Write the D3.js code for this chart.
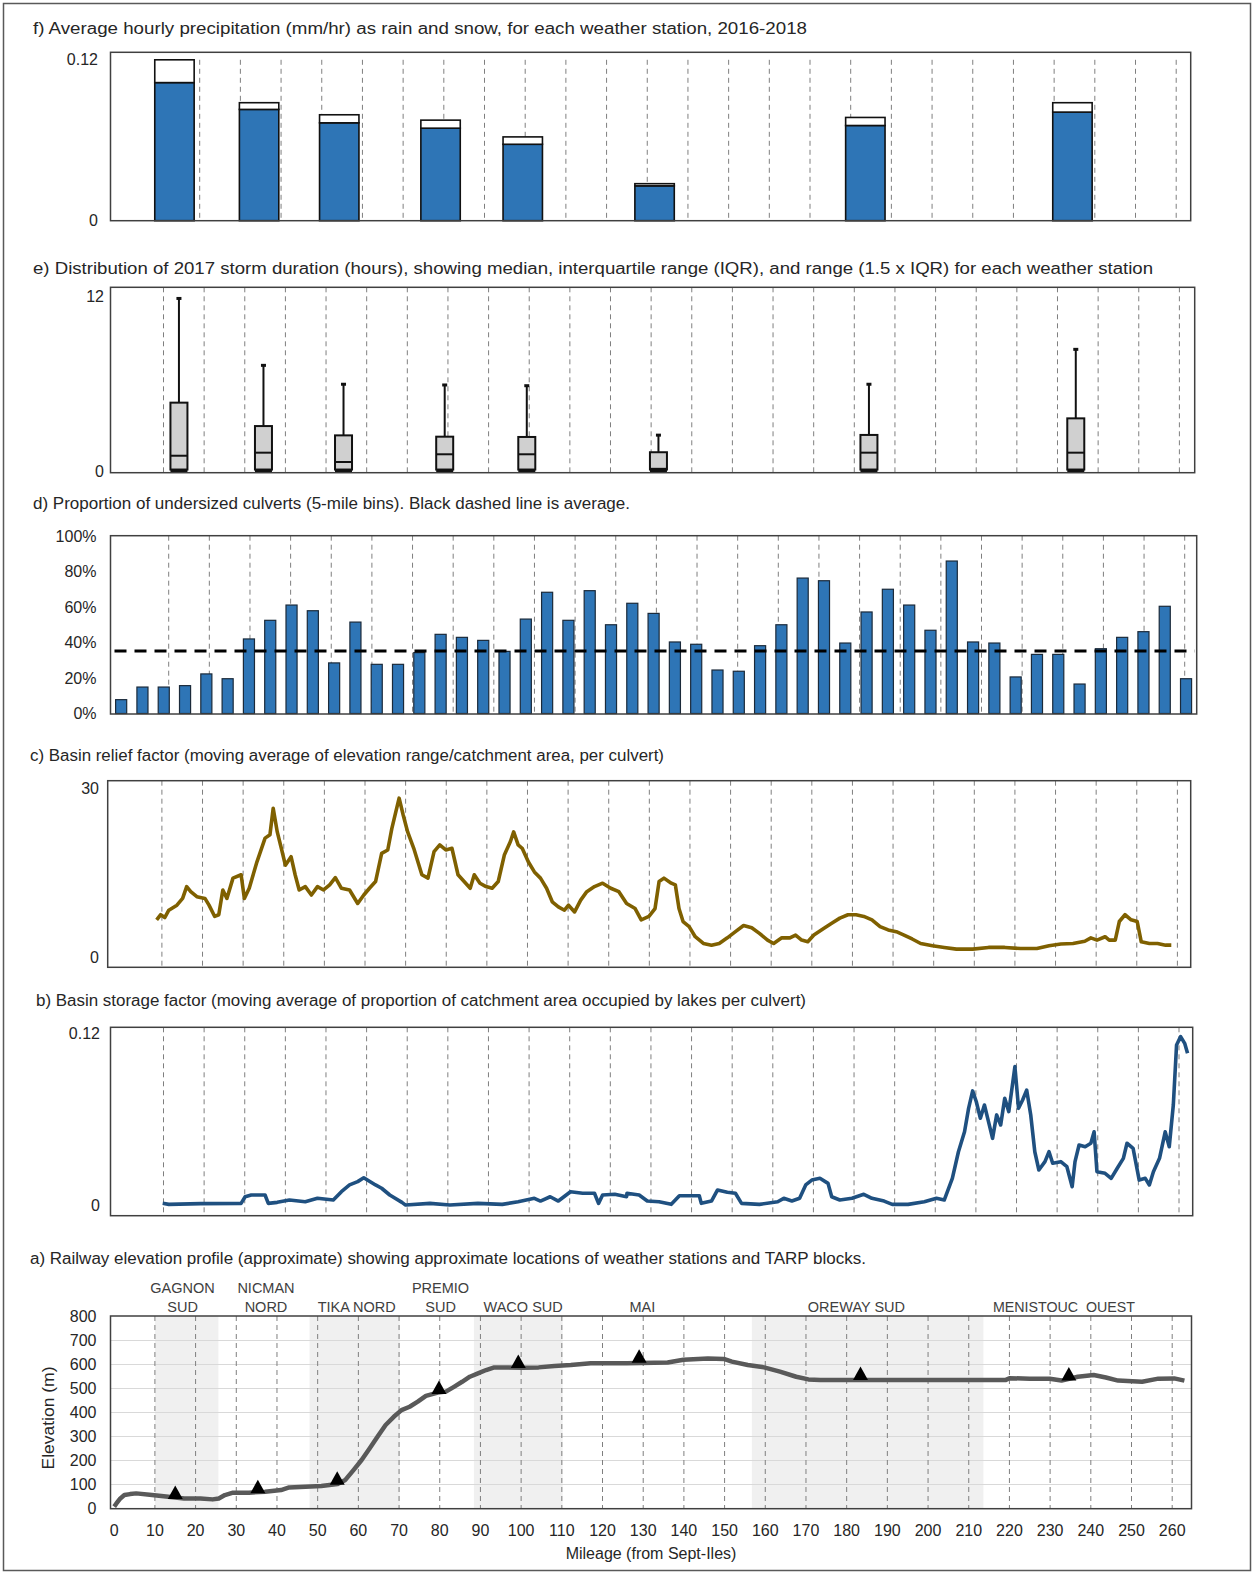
<!DOCTYPE html>
<html>
<head>
<meta charset="utf-8">
<script src="https://cdn.jsdelivr.net/npm/d3@7"></script>
<style>
  body { margin: 0; background: #fff; }
  svg { display: block; }
  text { font-family: "Liberation Sans", Arial, sans-serif; fill: #262626; }
</style>
</head>
<body>
<svg id="chart" width="1257" height="1575"></svg>
<script>
// ---------------- Data ----------------
// Weather stations (mileage from Sept-Iles)
const stationNames = ["GAGNON SUD", "NICMAN NORD", "TIKA NORD", "PREMIO SUD", "WACO SUD", "MAI", "OREWAY SUD", "MENISTOUC OUEST"];
const stationMile = [13.8, 34.6, 54.3, 79.2, 99.4, 131.8, 183.6, 234.5];

// f) average hourly precipitation (mm/hr), 2016-2018
const rainRate = [0.103, 0.083, 0.073, 0.069, 0.057, 0.026, 0.071, 0.081];
const snowRate = [0.017, 0.005, 0.006, 0.006, 0.0055, 0.0016, 0.006, 0.007];

// e) 2017 storm duration (hours)
const stormMin    = [0, 0, 0, 0, 0, 0, 0, 0];
const stormQ1     = [0.1, 0.1, 0.1, 0.1, 0.1, 0.1, 0.1, 0.1];
const stormMedian = [1.05, 1.26, 0.62, 1.15, 1.15, 0.15, 1.26, 1.26];
const stormQ3     = [4.7, 3.09, 2.45, 2.36, 2.34, 1.29, 2.48, 3.62];
const stormMax    = [11.9, 7.3, 6.0, 5.95, 5.9, 2.5, 6.0, 8.4];

// d) proportion of undersized culverts per 5-mile bin (%)
const binStart = d3.range(0, 255, 5);
const undersizedPct = [7.8, 14.9, 14.9, 15.7, 22.3, 19.6, 42, 52.5, 61.1, 57.9,
  28.5, 51.5, 27.7, 27.7, 34.3, 44.6, 42.9, 41.2, 35, 53.2,
  68.3, 52.5, 69.2, 50, 62.1, 56.4, 40.3, 39, 24.5, 23.8,
  38.2, 50, 76.3, 74.8, 39.7, 57.2, 70, 61.1, 46.9, 85.9,
  40.3, 39.7, 20.6, 33.3, 33.3, 16.6, 36.5, 42.9, 46.1, 60.4, 19.6];
const undersizedAvg = 35.2;

// c) basin relief factor, moving average [mile, value]
const reliefFactor = [[8.7,6.6],[9.7,7.5],[10.7,7.0],[11.7,8.3],[13.7,9.2],[15.1,10.4],[16.1,12.5],[17.1,11.6],[18.6,10.7],[20.6,10.4],
  [21.6,9.2],[23,7.2],[24,7.5],[25,11.9],[26,10.4],[27.5,14.0],[29.5,14.6],[30.3,10.4],[31.5,12.2],[33.4,16.9],
  [35.4,21.1],[36.6,21.7],[37.4,26.4],[38.4,22.2],[39.4,19.3],[40.4,16.3],[41.8,17.8],[42.8,14.6],[43.8,11.9],[45.3,12.5],
  [46.8,11.0],[48.3,12.5],[49.8,11.9],[51.3,12.8],[52.7,14.1],[54.2,12.2],[56.2,11.9],[58.2,9.5],[59.7,11.0],[61.1,12.2],
  [62.6,13.4],[64.1,18.4],[65.6,19.0],[66.6,22.8],[67.6,25.8],[68.4,28.2],[69.4,25.2],[70.5,22.2],[72,19.3],[74,14.6],
  [75.5,14.0],[77,18.7],[78.4,19.9],[79.9,19.0],[81.4,19.3],[82.9,14.6],[84.4,13.4],[85.9,12.2],[86.9,14.6],[88.3,13.1],
  [89.8,12.5],[91.3,12.2],[92.8,13.4],[94.3,18.1],[95.8,20.5],[96.6,22.2],[97.7,19.9],[98.7,19.3],[100.2,16.9],[101.7,15.1],
  [103.2,14.0],[104.7,12.2],[106.1,9.8],[107.6,8.9],[109.1,8.3],[110.1,9.2],[111.6,8.0],[113.1,10.1],[114.6,11.6],[116.5,12.5],
  [118.5,13.1],[120.5,12.2],[122.5,11.6],[124.4,9.5],[126.5,8.6],[128,6.6],[129.9,7.2],[131.4,8.6],[132.4,13.4],[133.6,14.0],
  [135.4,13.1],[136.4,12.8],[137.3,8.6],[138.3,6.3],[139.8,5.4],[141.3,3.6],[143.3,2.4],[145.3,2.1],[147.2,2.4],[149.2,3.4],
  [151.2,4.5],[153.2,5.6],[155.2,5.2],[157.1,4.2],[159.1,3.0],[160.6,2.4],[162.6,3.4],[164.6,3.4],[166,3.9],[167.5,3.0],
  [169,2.7],[170.5,3.9],[173,5.1],[174.9,6.0],[176.9,6.9],[178.9,7.5],[180.9,7.5],[182.8,7.2],[184.8,6.6],[186.8,5.4],
  [188.8,4.8],[190.8,4.5],[192.7,3.9],[194.7,3.2],[196.8,2.4],[199.7,2.0],[202.6,1.7],[205.6,1.4],[209.6,1.4],[213.5,1.7],
  [217.5,1.7],[221.4,1.5],[225.4,1.5],[228.4,2.0],[231.3,2.3],[234.3,2.4],[237.2,2.8],[238.7,3.4],[240.2,3.0],[242.2,3.6],
  [243.2,3.0],[244.7,3.0],[245.7,6.3],[247.1,7.5],[248.6,6.6],[250.1,6.3],[251.1,2.7],[253.1,2.4],[255.1,2.4],[257.1,2.1],[258.5,2.1]];

// b) basin storage factor, moving average [mile, value]
const storageFactor = [[9.8,0.0015],[11.3,0.0008],[19.2,0.0013],[29.1,0.0015],[30.1,0.0061],[31.6,0.0073],[35,0.0073],[35.8,0.0015],
  [38,0.0022],[41,0.0038],[44.9,0.0026],[47.9,0.005],[51.8,0.0038],[53.8,0.0096],[55.8,0.0143],[57.8,0.0166],[59.3,0.0193],
  [60.2,0.0177],[62.2,0.0143],[63.7,0.012],[65.7,0.0073],[68.7,0.0022],[69.6,0.0003],[75.6,0.0015],[80.5,0.0003],[87.4,0.0015],
  [93.4,0.0008],[97.3,0.0026],[101.3,0.005],[102.8,0.0031],[105.2,0.0061],[107.2,0.0031],[110.2,0.0096],[113.2,0.0085],
  [116.1,0.0085],[117.1,0.0015],[118.1,0.0073],[121.1,0.0078],[124,0.0061],[124.1,0.0085],[127.1,0.0073],[129.1,0.0031],
  [132,0.0026],[135,0.0008],[137,0.0068],[141.9,0.0068],[142.4,0.0015],[144.9,0.0031],[146.4,0.0108],[148.8,0.0092],
  [150.8,0.0085],[152.3,0.0015],[156.7,0.0008],[161.2,0.0026],[162.7,0.005],[164.7,0.0031],[166.6,0.005],[168.1,0.0143],
  [169.6,0.0177],[171.6,0.0189],[173.6,0.0154],[174.5,0.0061],[176.5,0.0038],[179.5,0.005],[182.4,0.0078],[184.4,0.005],
  [187.4,0.0031],[189.4,0.0008],[193.3,0.0008],[197.3,0.0026],[200.3,0.005],[202.2,0.0038],[204.2,0.0189],[205.7,0.0374],
  [207.2,0.0513],[208.2,0.0676],[209.2,0.0797],[210.1,0.0722],[211.1,0.0607],[212.1,0.0699],[213.1,0.0583],[214.1,0.0467],
  [215.1,0.063],[216.1,0.056],[217.1,0.0746],[218.1,0.0653],[219.6,0.0966],[220.5,0.0676],[221.5,0.0734],[222.5,0.0803],
  [223.5,0.063],[224.5,0.0374],[225.5,0.0247],[227,0.0305],[228,0.0374],[228.9,0.0294],[230.9,0.0305],[232.4,0.027],
  [233.7,0.0131],[234.4,0.0305],[235.4,0.0421],[236.9,0.0409],[238.3,0.0433],[239.1,0.0513],[239.8,0.0235],[241.8,0.0224],
  [243.3,0.0189],[244.8,0.0259],[246.3,0.0328],[247.2,0.0433],[248.7,0.0398],[250.2,0.0177],[251.7,0.0189],[252.7,0.0143],
  [253.7,0.0235],[255.2,0.0328],[256.6,0.0513],[257.6,0.0409],[258.6,0.0699],[259.4,0.1117],[260.4,0.1175],[261.4,0.1128],[262.1,0.1059]];

// a) railway elevation profile [mile, elevation m]
const elevationProfile = [[0,8],[0.5,20],[1.5,42],[2.5,56],[3.9,60],[5.4,63],[9.3,56],[13.3,49],[17.2,42],[21.2,42],
  [24.2,38],[25.7,42],[27.2,56],[29.2,66],[33.1,66],[37.1,70],[41,77],[43,88],[47,91],[50.9,94],
  [54.9,102],[56.8,119],[58.8,160],[60.8,202],[62.8,251],[64.7,299],[66.7,348],[68.7,382],[70.6,410],[72.6,424],
  [74.6,445],[76.6,469],[79.5,483],[81.5,487],[83.5,507],[85.5,528],[87.4,549],[89.4,563],[91.4,577],[93.4,588],
  [96.4,588],[100.3,586],[104.3,588],[108.2,594],[112.2,598],[117.1,605],[121.1,605],[126,605],[136,608],[139.9,620],
  [145.9,625],[149.8,623],[151.8,612],[155.7,598],[159.7,588],[163.6,570],[167.6,549],[170.6,538],[173.5,535],[181.4,535],
  [189.2,535],[197.3,535],[205.2,535],[215,535],[219,535],[220,543],[225,541],[229.9,541],[232.8,533],[236.8,549],
  [240.7,556],[243.7,546],[246.7,533],[252.6,528],[256.6,541],[260.5,542],[263,533]];

// station markers on the profile
const markerMile = [15.0, 35.3, 54.8, 79.8, 99.3, 129, 183.4, 234.6];
const markerElev = [40, 64, 99, 477, 585, 607, 535, 533];

// TARP blocks [start mile, end mile]
const tarpBlocks = [[10, 25.6], [48, 70.2], [88.4, 110.2], [156.7, 213.6]];

// tick values
const gridMiles = d3.range(10, 261, 10);
const mileTicks = d3.range(0, 261, 10);
const elevTicks = d3.range(0, 801, 100);
const pctTicks = d3.range(0, 101, 20);

// ---------------- Drawing ----------------
const svg = d3.select("#chart");
svg.append("rect").attr("width", 1257).attr("height", 1575).attr("fill", "#fff");
svg.append("rect").attr("x", 3.5).attr("y", 3.5).attr("width", 1247).attr("height", 1567)
  .attr("fill", "none").attr("stroke", "#595959").attr("stroke-width", 1.5);

const BLUE = "#2e75b6";

function title(txt, x, y, len) {
  svg.append("text").attr("x", x).attr("y", y).attr("dominant-baseline", "central")
    .attr("font-size", 16).attr("textLength", len).attr("lengthAdjust", "spacingAndGlyphs").text(txt);
}
function frame(b) {
  svg.append("rect").attr("x", b.x0).attr("y", b.y0).attr("width", b.x1 - b.x0).attr("height", b.y1 - b.y0)
    .attr("fill", "none").attr("stroke", "#404040").attr("stroke-width", 1.5);
}
function mileGrid(x, y0, y1) {
  svg.append("g").selectAll("line").data(gridMiles).join("line")
    .attr("x1", d => x(d)).attr("x2", d => x(d)).attr("y1", y0).attr("y2", y1)
    .attr("stroke", "#7f7f7f").attr("stroke-width", 1).attr("stroke-dasharray", "5,4");
}
function yLabels(ticks, y, xRight, fmt) {
  svg.append("g").selectAll("text").data(ticks).join("text")
    .attr("x", xRight).attr("y", d => y(d)).attr("text-anchor", "end").attr("dominant-baseline", "central")
    .attr("font-size", 16).text(fmt);
}

// ---- f) precipitation ----
{
  const b = { x0: 110.5, y0: 52.3, x1: 1190.7, y1: 220.7 };
  const x = d3.scaleLinear().domain([10, 260]).range([159.0, 1176.2]);
  const y = d3.scaleLinear().domain([0, 0.12]).range([220.7, 59.8]);
  title("f) Average  hourly precipitation (mm/hr) as rain and snow, for each weather  station, 2016-2018", 33, 28.3, 774);
  mileGrid(x, y(0.12), b.y1);
  const bw = 39.4;
  const g = svg.append("g");
  g.selectAll("rect.rain").data(stationMile).join("rect").attr("class", "rain")
    .attr("x", d => x(d) - bw / 2).attr("width", bw)
    .attr("y", (d, i) => y(rainRate[i])).attr("height", (d, i) => y(0) - y(rainRate[i]))
    .attr("fill", BLUE).attr("stroke", "#111").attr("stroke-width", 1.6);
  g.selectAll("rect.snow").data(stationMile).join("rect").attr("class", "snow")
    .attr("x", d => x(d) - bw / 2).attr("width", bw)
    .attr("y", (d, i) => y(rainRate[i] + snowRate[i])).attr("height", (d, i) => y(rainRate[i]) - y(rainRate[i] + snowRate[i]))
    .attr("fill", "#fff").attr("stroke", "#111").attr("stroke-width", 1.6);
  frame(b);
  yLabels([0, 0.12], y, 98, d => d === 0 ? "0" : "0.12");
}

// ---- e) storm duration box plots ----
{
  const b = { x0: 110.5, y0: 287.3, x1: 1194.7, y1: 472.7 };
  const x = d3.scaleLinear().domain([10, 260]).range([163.5, 1179.4]);
  const y = d3.scaleLinear().domain([0, 12]).range([471, 296.5]);
  title("e) Distribution  of 2017  storm duration  (hours), showing  median, interquartile range (IQR),  and range (1.5 x IQR) for each weather  station", 33, 268.3, 1120);
  mileGrid(x, b.y0, b.y1);
  const bw = 17;
  const g = svg.append("g");
  g.selectAll("line.whisk").data(stationMile).join("line").attr("class", "whisk")
    .attr("x1", d => x(d)).attr("x2", d => x(d))
    .attr("y1", (d, i) => y(stormMax[i])).attr("y2", (d, i) => y(stormMin[i]))
    .attr("stroke", "#111").attr("stroke-width", 2);
  g.selectAll("rect.cap").data(stationMile).join("rect").attr("class", "cap")
    .attr("x", d => x(d) - 2.5).attr("width", 5)
    .attr("y", (d, i) => y(stormMax[i]) - 1).attr("height", 3).attr("fill", "#111");
  g.selectAll("rect.box").data(stationMile).join("rect").attr("class", "box")
    .attr("x", d => x(d) - bw / 2).attr("width", bw)
    .attr("y", (d, i) => y(stormQ3[i])).attr("height", (d, i) => y(stormQ1[i]) - y(stormQ3[i]))
    .attr("fill", "#d0d0d0").attr("stroke", "#111").attr("stroke-width", 2);
  g.selectAll("line.med").data(stationMile).join("line").attr("class", "med")
    .attr("x1", d => x(d) - bw / 2).attr("x2", d => x(d) + bw / 2)
    .attr("y1", (d, i) => y(stormMedian[i])).attr("y2", (d, i) => y(stormMedian[i]))
    .attr("stroke", "#111").attr("stroke-width", 2);
  g.selectAll("line.base").data(stationMile).join("line").attr("class", "base")
    .attr("x1", d => x(d) - bw / 2).attr("x2", d => x(d) + bw / 2)
    .attr("y1", (d, i) => y(stormMin[i])).attr("y2", (d, i) => y(stormMin[i]))
    .attr("stroke", "#111").attr("stroke-width", 2);
  frame(b);
  yLabels([0, 12], y, 104, d => String(d));
}

// ---- d) undersized culverts ----
{
  const b = { x0: 110.5, y0: 535.7, x1: 1196.7, y1: 714 };
  const xm = d3.scaleLinear().domain([10, 260]).range([168.7, 1184.7]);
  const x = d3.scaleBand().domain(binStart).range([b.x0, b.x1]).paddingInner(0.48).paddingOuter(0.24);
  const y = d3.scaleLinear().domain([0, 100]).range([713.5, 536]);
  title("d) Proportion of undersized culverts (5-mile bins). Black dashed line is average.", 33, 503.3, 597);
  mileGrid(xm, b.y0, b.y1);
  svg.append("g").selectAll("rect").data(undersizedPct).join("rect")
    .attr("x", (d, i) => x(binStart[i])).attr("width", x.bandwidth())
    .attr("y", d => y(d)).attr("height", d => y(0) - y(d))
    .attr("fill", BLUE).attr("stroke", "#1b2a3a").attr("stroke-width", 1.2);
  svg.append("line").attr("x1", b.x0 + 4).attr("x2", b.x1 - 2)
    .attr("y1", y(undersizedAvg)).attr("y2", y(undersizedAvg))
    .attr("stroke", "#000").attr("stroke-width", 3).attr("stroke-dasharray", "12,8");
  frame(b);
  yLabels(pctTicks, y, 96.5, d => d + "%");
}

// ---- c) basin relief factor ----
{
  const b = { x0: 107.7, y0: 780.7, x1: 1190.7, y1: 967.3 };
  const x = d3.scaleLinear().domain([10, 260]).range([161.9, 1177.4]);
  const y = d3.scaleLinear().domain([0, 30]).range([957, 788]);
  title("c) Basin relief factor (moving average of elevation range/catchment area, per culvert)", 30, 755, 634);
  mileGrid(x, b.y0, b.y1);
  svg.append("path").datum(reliefFactor)
    .attr("d", d3.line().x(d => x(d[0])).y(d => y(d[1])))
    .attr("fill", "none").attr("stroke", "#7f6000").attr("stroke-width", 3.6).attr("stroke-linejoin", "round");
  frame(b);
  yLabels([0, 30], y, 99, d => String(d));
}

// ---- b) basin storage factor ----
{
  const b = { x0: 110.5, y0: 1027.3, x1: 1192.7, y1: 1215.7 };
  const x = d3.scaleLinear().domain([10, 260]).range([163.5, 1179.0]);
  const y = d3.scaleLinear().domain([0, 0.12]).range([1205.5, 1033]);
  title("b) Basin storage factor (moving average of proportion of catchment area occupied by lakes per culvert)", 36, 1000.5, 770);
  mileGrid(x, b.y0, b.y1);
  svg.append("path").datum(storageFactor)
    .attr("d", d3.line().x(d => x(d[0])).y(d => y(d[1])))
    .attr("fill", "none").attr("stroke", "#1f5080").attr("stroke-width", 3.6).attr("stroke-linejoin", "round");
  frame(b);
  yLabels([0, 0.12], y, 100, d => d === 0 ? "0" : "0.12");
}

// ---- a) elevation profile ----
{
  const b = { x0: 110.5, y0: 1316, x1: 1191.5, y1: 1508.7 };
  const x = d3.scaleLinear().domain([10, 260]).range([154.9, 1172.2]);
  const y = d3.scaleLinear().domain([0, 800]).range([1508.5, 1316.5]);
  title("a) Railway elevation profile (approximate) showing approximate locations of weather stations and TARP blocks.", 30, 1258.3, 836);

  // TARP blocks
  svg.append("g").selectAll("rect").data(tarpBlocks).join("rect")
    .attr("x", d => x(d[0])).attr("width", d => x(d[1]) - x(d[0]))
    .attr("y", b.y0).attr("height", b.y1 - b.y0).attr("fill", "#f0f0f0");

  // horizontal gridlines
  svg.append("g").selectAll("line").data(elevTicks.slice(1, -1)).join("line")
    .attr("x1", b.x0).attr("x2", b.x1).attr("y1", d => y(d)).attr("y2", d => y(d))
    .attr("stroke", "#d9d9d9").attr("stroke-width", 1);
  mileGrid(x, b.y0, b.y1);

  svg.append("path").datum(elevationProfile)
    .attr("d", d3.line().x(d => x(d[0])).y(d => y(d[1])))
    .attr("fill", "none").attr("stroke", "#595959").attr("stroke-width", 4.5).attr("stroke-linejoin", "round");

  // station markers (triangles sitting on the profile)
  svg.append("g").selectAll("path").data(markerMile).join("path")
    .attr("d", (d, i) => {
      const cx = x(d), by = y(markerElev[i]);
      const p = d3.path();
      p.moveTo(cx - 7.5, by); p.lineTo(cx + 7.5, by); p.lineTo(cx, by - 13.5); p.closePath();
      return p.toString();
    })
    .attr("fill", "#000");

  frame(b);

  // station labels above the plot
  const labelMile = [16.8, 37.3, 59.6, 80.2, 100.5, 129.8, 182.4, 233.4];
  const labelLines = [["GAGNON", "SUD"], ["NICMAN", "NORD"], ["TIKA NORD"], ["PREMIO", "SUD"], ["WACO SUD"], ["MAI"], ["OREWAY SUD"], ["MENISTOUC  OUEST"]];
  const lg = svg.append("g");
  labelLines.forEach((lines, i) => {
    lines.forEach((t, j) => {
      const yy = lines.length === 2 ? (j === 0 ? 1288.3 : 1306.7) : 1306.7;
      const tx = lg.append("text").attr("x", x(labelMile[i])).attr("y", yy)
        .attr("text-anchor", "middle").attr("dominant-baseline", "central")
        .attr("font-size", 14.5).style("fill", "#404040").style("white-space", "pre").text(t);
      if (t === "MENISTOUC  OUEST") tx.attr("textLength", 142).attr("lengthAdjust", "spacingAndGlyphs");
    });
  });

  // axes labels
  yLabels(elevTicks, y, 96.5, d => String(d));
  svg.append("g").selectAll("text").data(mileTicks).join("text")
    .attr("x", d => x(d)).attr("y", 1530).attr("text-anchor", "middle").attr("dominant-baseline", "central")
    .attr("font-size", 16).text(d => d);
  svg.append("text").attr("x", 651).attr("y", 1553.5).attr("text-anchor", "middle").attr("dominant-baseline", "central")
    .attr("font-size", 16).text("Mileage (from Sept-Iles)");
  svg.append("text").attr("transform", "translate(48,1418) rotate(-90)").attr("text-anchor", "middle")
    .attr("dominant-baseline", "central").attr("font-size", 16).attr("textLength", 103)
    .attr("lengthAdjust", "spacingAndGlyphs").text("Elevation (m)");
}
</script>
</body>
</html>
